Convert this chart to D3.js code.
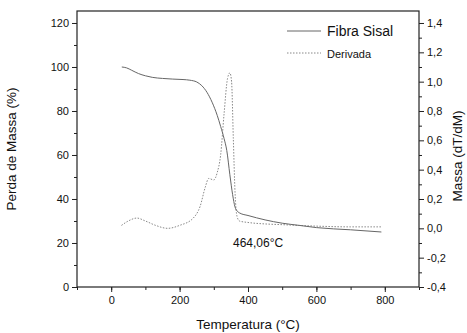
<!DOCTYPE html>
<html>
<head>
<meta charset="utf-8">
<script src="https://cdn.jsdelivr.net/npm/d3@7"></script>
<style>
  body { margin: 0; background: #fff; }
  text { font-family: "Liberation Sans", Arial, sans-serif; fill: #111; }
</style>
</head>
<body>
<svg width="467" height="333"></svg>
<script>
// TG curve (mass loss, left axis)
const tgTemp = [31, 45, 60, 80, 100, 120, 150, 180, 210, 230, 250, 265, 280, 295, 310, 320, 330, 338, 347, 355, 362, 368, 376, 400, 450, 500, 550, 600, 700, 790];
const tgMass = [100, 99.6, 98.5, 97, 96, 95.3, 94.8, 94.5, 94.3, 94, 93.2, 91.5, 88.5, 84, 78, 73, 67.5, 62, 51, 42, 36.4, 34.6, 33.6, 32.5, 30.5, 29, 28, 27, 26, 25];

// DTG curve (derivative, right axis)
const dtgTemp = [30, 50, 75, 100, 130, 165, 200, 240, 260, 275, 285, 300, 310, 320, 330, 340, 347, 352, 357, 362, 368, 375, 400, 450, 500, 600, 700, 790];
const dtgVal = [0.02, 0.05, 0.07, 0.05, 0.02, 0.0, 0.02, 0.07, 0.15, 0.28, 0.34, 0.33, 0.38, 0.5, 0.78, 1.02, 1.06, 1.0, 0.62, 0.25, 0.08, 0.05, 0.04, 0.03, 0.025, 0.015, 0.01, 0.01];

const xTicks = [0, 200, 400, 600, 800];
const yLeftTicks = [0, 20, 40, 60, 80, 100, 120];
const yRightTicks = [-0.4, -0.2, 0.0, 0.2, 0.4, 0.6, 0.8, 1.0, 1.2, 1.4];
const seriesNames = ["Fibra Sisal", "Derivada"];
const peakLabel = "464,06°C";

const svg = d3.select("svg");
const m = { left: 77, right: 419, top: 11, bottom: 287 };

const x = d3.scaleLinear().domain([-100, 900]).range([m.left, m.right]);
const yL = d3.scaleLinear().domain([0, 125.45]).range([m.bottom, m.top]);
const yR = d3.scaleLinear().domain([-0.4, 1.4818]).range([m.bottom, m.top]);

const fmt = d3.format(".1f");
const comma = v => fmt(v).replace(".", ",").replace("−", "-");

// axes
const xAxis = d3.axisBottom(x).tickValues(xTicks).tickSize(5).tickPadding(4).tickFormat(d3.format("d"));
const xMinor = d3.axisBottom(x).tickValues(d3.range(-100, 901, 100)).tickSize(3).tickFormat("");
const lAxis = d3.axisLeft(yL).tickValues(yLeftTicks).tickSize(5).tickPadding(3);
const lMinor = d3.axisLeft(yL).tickValues(d3.range(10, 121, 10)).tickSize(3).tickFormat("");
const rAxis = d3.axisRight(yR).tickValues(yRightTicks).tickSize(5).tickPadding(3).tickFormat(comma);
const rMinor = d3.axisRight(yR).tickValues(d3.range(-3, 15, 2).map(v => v / 10)).tickSize(3).tickFormat("");

function styleAxis(g) {
  g.selectAll(".domain").remove();
  g.selectAll("line").attr("stroke", "#222");
  g.selectAll("text").attr("font-size", 11).attr("fill", "#111")
    .attr("font-family", "Liberation Sans, Arial, sans-serif");
}

svg.append("g").attr("transform", `translate(0,${m.bottom})`).call(xMinor).call(styleAxis);
svg.append("g").attr("transform", `translate(0,${m.bottom})`).call(xAxis).call(styleAxis);
svg.append("g").attr("transform", `translate(${m.left},0)`).call(lMinor).call(styleAxis);
svg.append("g").attr("transform", `translate(${m.left},0)`).call(lAxis).call(styleAxis);
svg.append("g").attr("transform", `translate(${m.right},0)`).call(rMinor).call(styleAxis);
svg.append("g").attr("transform", `translate(${m.right},0)`).call(rAxis).call(styleAxis);

// frame
svg.append("rect")
  .attr("x", m.left).attr("y", m.top)
  .attr("width", m.right - m.left).attr("height", m.bottom - m.top)
  .attr("fill", "none").attr("stroke", "#222").attr("stroke-width", 1.2);

// curves
const tgLine = d3.line().x(d => x(d[0])).y(d => yL(d[1])).curve(d3.curveMonotoneX);
const dtgLine = d3.line().x(d => x(d[0])).y(d => yR(d[1])).curve(d3.curveMonotoneX);

svg.append("path")
  .datum(dtgTemp.map((t, i) => [t, dtgVal[i]]))
  .attr("d", dtgLine)
  .attr("fill", "none").attr("stroke", "#888").attr("stroke-width", 1)
  .attr("stroke-dasharray", "1.5,1.5");

svg.append("path")
  .datum(tgTemp.map((t, i) => [t, tgMass[i]]))
  .attr("d", tgLine)
  .attr("fill", "none").attr("stroke", "#666").attr("stroke-width", 1);

// legend
const leg = svg.append("g");
leg.append("line").attr("x1", 287).attr("x2", 321).attr("y1", 31).attr("y2", 31)
  .attr("stroke", "#666").attr("stroke-width", 1);
leg.append("text").attr("x", 327).attr("y", 31).attr("dy", "0.35em")
  .attr("font-size", 14).text(seriesNames[0]);
leg.append("line").attr("x1", 287).attr("x2", 321).attr("y1", 53).attr("y2", 53)
  .attr("stroke", "#888").attr("stroke-width", 1).attr("stroke-dasharray", "1.5,1.5");
leg.append("text").attr("x", 327).attr("y", 54).attr("dy", "0.35em")
  .attr("font-size", 11).text(seriesNames[1]);

// annotation
svg.append("text").attr("x", 233).attr("y", 243).attr("dy", "0.35em")
  .attr("font-size", 12).text(peakLabel);

// axis titles
svg.append("text").attr("x", (m.left + m.right) / 2).attr("y", 329)
  .attr("text-anchor", "middle").attr("font-size", 13.5).text("Temperatura (°C)");
svg.append("text").attr("transform", `translate(16,${(m.top + m.bottom) / 2}) rotate(-90)`)
  .attr("text-anchor", "middle").attr("font-size", 13.5).text("Perda de Massa (%)");
svg.append("text").attr("transform", `translate(462,156) rotate(-90)`)
  .attr("text-anchor", "middle").attr("font-size", 13.5).text("Massa (dT/dM)");
</script>
</body>
</html>
